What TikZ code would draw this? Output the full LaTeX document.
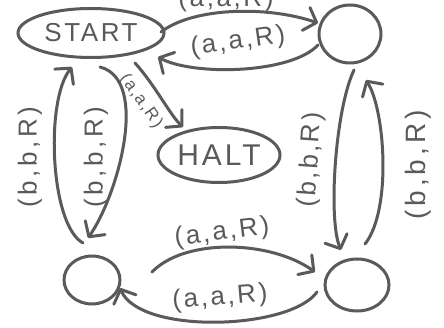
\documentclass[tikz,border=0pt]{standalone}
\usepackage{fontspec}
\setmainfont{Liberation Sans}
\newfontfamily\handA[LetterSpace=10]{Liberation Sans}
\newfontfamily\handB[LetterSpace=14]{Liberation Sans}
\usetikzlibrary{shapes.geometric,arrows.meta}
\definecolor{ink}{HTML}{5A5A5A}
\begin{document}
\begin{tikzpicture}[x=1pt,y=-1pt,
  state/.style={draw=ink, ellipse, line width=3pt, inner sep=0pt, text=ink},
  edge/.style={draw=ink, line width=3pt, line cap=round, line join=round,
    -{Straight Barb[length=11pt,width=24pt,round]}},
  lbl/.style={text=ink, inner sep=0pt, font=\handA\fontsize{26}{30}\selectfont},
  lblb/.style={text=ink, inner sep=0pt, font=\handB\fontsize{26}{30}\selectfont}]
\useasboundingbox (0,0) rectangle (444,328);
\fill[white] (0,0) rectangle (444,328);
% states
\node[state, minimum width=146pt, minimum height=49pt, font=\handA\fontsize{26}{30}\selectfont] (start) at (91,33) {START};
\node[state, minimum width=62pt, minimum height=58pt] (tr) at (350,34) {};
\node[state, minimum width=122pt, minimum height=55pt, font=\handA\fontsize{30}{34}\selectfont] (halt) at (219,155) {HALT};
\node[state, minimum width=56pt, minimum height=48pt] (bl) at (92,280) {};
\node[state, minimum width=64pt, minimum height=52pt] (br) at (357,285) {};
% edges
\draw[edge] ([shift={(70,-1)}]start.center) .. controls (192,8) and (265,5) .. ([shift={(-32,-11)}]tr.center);
\draw[edge] ([shift={(-32,11)}]tr.center) .. controls (291,74) and (193,76) .. ([shift={(67,24)}]start.center);
\draw[edge] ([shift={(44,30)}]start.center) .. controls (155,85) and (170,115) .. ([shift={(-36,-28)}]halt.center);
\draw[edge] ([shift={(-9,-37)}]bl.center) .. controls (50,225) and (45,100) .. ([shift={(-19,34)}]start.center);
\draw[edge] ([shift={(9,34)}]start.center) .. controls (150,80) and (118,195) .. ([shift={(-4,-42)}]bl.center);
\draw[edge] ([shift={(4,36)}]tr.center) .. controls (335,110) and (328,220) .. ([shift={(-16,-35)}]br.center);
\draw[edge] ([shift={(8,-41)}]br.center) .. controls (392,210) and (385,110) .. ([shift={(16,46)}]tr.center);
\draw[edge] ([shift={(60,-8)}]bl.center) .. controls (185,238) and (270,240) .. ([shift={(-42,-13)}]br.center);
\draw[edge] ([shift={(-40,7)}]br.center) .. controls (290,330) and (140,335) .. ([shift={(28,8)}]bl.center);
% labels
\node[lbl] (lA) at (226,0) {(a,a,R)};
\node[lbl, rotate=8] (lB) at (238,42) {(a,a,R)};
\node[lbl, rotate=-55, font=\handA\fontsize{17}{20}\selectfont] (lC) at (141,101) {(a,a,R)};
\node[lblb, rotate=90] (lD) at (30,157) {(b,b,R)};
\node[lblb, rotate=90] (lE) at (96,157) {(b,b,R)};
\node[lbl, rotate=86] (lF) at (311,160) {(b,b,R)};
\node[lblb, rotate=90, font=\handB\fontsize{28}{32}\selectfont] (lG) at (418,165) {(b,b,R)};
\node[lbl, rotate=7] (lH) at (222,233) {(a,a,R)};
\node[lbl, rotate=5] (lI) at (220,298) {(a,a,R)};
\end{tikzpicture}
\end{document}
